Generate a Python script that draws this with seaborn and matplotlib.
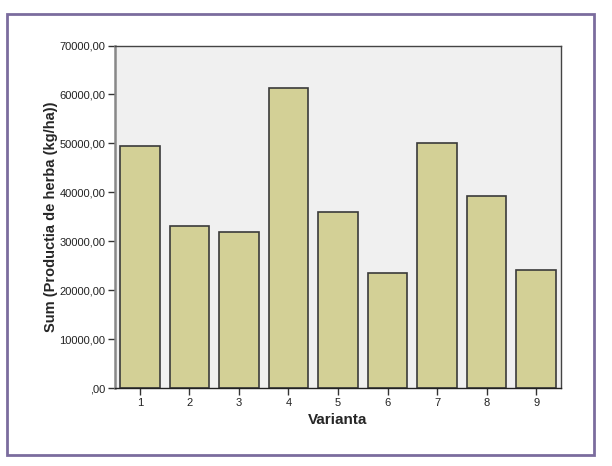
import matplotlib
matplotlib.use("Agg")
import matplotlib.pyplot as plt
import seaborn as sns
import pandas as pd
from matplotlib.patches import Rectangle

# Data
variants = ["1", "2", "3", "4", "5", "6", "7", "8", "9"]
production = [49450, 33200, 31900, 61300, 35900, 23600, 50100, 39200, 24100]
ytick_values = [0, 10000, 20000, 30000, 40000, 50000, 60000, 70000]
ytick_labels = [",00", "10000,00", "20000,00", "30000,00", "40000,00",
                "50000,00", "60000,00", "70000,00"]

df = pd.DataFrame({"Varianta": variants, "Productia": production})

sns.set_theme(style="white")
plt.rcParams["font.family"] = ["Liberation Sans", "DejaVu Sans"]

fig = plt.figure(figsize=(6.12, 4.66), dpi=100)
fig.patch.set_facecolor("white")

# outer purple frame
frame = Rectangle((7 / 612, 1 - 455 / 466), (594 - 7) / 612, (455 - 14) / 466,
                  transform=fig.transFigure, fill=False,
                  edgecolor="#7B6C9E", linewidth=2.0, zorder=0)
fig.patches.append(frame)

ax = fig.add_axes([115 / 612, 1 - 388 / 466, (561 - 115) / 612, (388 - 45.5) / 466])
ax.set_facecolor("#F0F0F0")

sns.barplot(data=df, x="Varianta", y="Productia", ax=ax, color="#D3D096",
            saturation=1, width=0.8, edgecolor="#3a3a3a", linewidth=1.2,
            errorbar=None)

ax.set_ylim(0, 70000)
ax.set_xlim(-0.5, 8.5)
ax.set_yticks(ytick_values)
ax.set_yticklabels(ytick_labels)

ax.set_xlabel("Varianta", fontsize=11, fontweight="bold", labelpad=4)
ax.set_ylabel("Sum (Productia de herba (kg/ha))", fontsize=10.5,
              fontweight="bold", labelpad=1)

ax.tick_params(axis="both", which="both", direction="out", length=5,
               width=1, color="#333333", labelsize=8, labelcolor="#222222",
               left=True, bottom=True, pad=2)

for side in ["top", "right"]:
    ax.spines[side].set_visible(True)
    ax.spines[side].set_color("#444444")
    ax.spines[side].set_linewidth(1.0)
ax.spines["left"].set_color("#888888")
ax.spines["left"].set_linewidth(1.8)
ax.spines["bottom"].set_color("#222222")
ax.spines["bottom"].set_linewidth(1.0)

fig.savefig("out.png", dpi=100)
